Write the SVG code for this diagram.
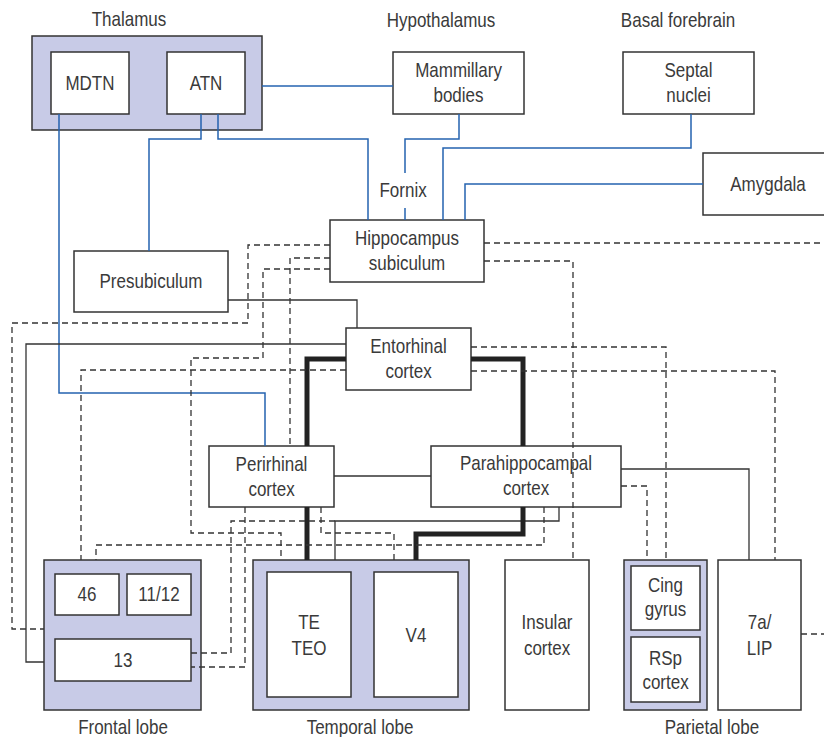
<svg xmlns="http://www.w3.org/2000/svg" width="824" height="737" viewBox="0 0 824 737">
<style>
text{font-family:"Liberation Sans",Arial,sans-serif;font-size:20px;fill:#3a3a3a;text-anchor:middle;transform-box:fill-box;transform-origin:center;transform:scale(0.85,1)}
.box{fill:#fff;stroke:#333;stroke-width:1.5}
.lobe{fill:#c8cbe7;stroke:#333;stroke-width:1.5}
.blue{fill:none;stroke:#2563b0;stroke-width:1.5}
.solid{fill:none;stroke:#333;stroke-width:1.3}
.thick{fill:none;stroke:#222;stroke-width:5}
.dash{fill:none;stroke:#333;stroke-width:1.3;stroke-dasharray:6 4}
</style>
<rect width="824" height="737" fill="#fff"/>
<g id="labels">
<text x="129" y="26">Thalamus</text>
<text x="441" y="27">Hypothalamus</text>
<text x="678" y="27">Basal forebrain</text>
<text x="403" y="197">Fornix</text>
<text x="123" y="734">Frontal lobe</text>
<text x="360" y="734">Temporal lobe</text>
<text x="712" y="734">Parietal lobe</text>
</g>
<g id="nodes">
<g id="thalamus"><rect class="lobe" x="32" y="36" width="230" height="94"/></g>
<g id="mdtn"><rect class="box" x="51" y="52" width="78" height="62"/><text x="90" y="90">MDTN</text></g>
<g id="atn"><rect class="box" x="167" y="52" width="78" height="62"/><text x="206" y="90">ATN</text></g>
<g id="mammillary"><rect class="box" x="393" y="52" width="131" height="62"/><text x="458.5" y="77">Mammillary</text><text x="458.5" y="102">bodies</text></g>
<g id="septal"><rect class="box" x="623" y="52" width="131" height="62"/><text x="688.5" y="77">Septal</text><text x="688.5" y="102">nuclei</text></g>
<g id="amygdala"><rect class="box" x="703" y="153" width="130" height="62"/><text x="768" y="191">Amygdala</text></g>
<g id="hippocampus"><rect class="box" x="330" y="220" width="154" height="62"/><text x="407" y="245">Hippocampus</text><text x="407" y="270">subiculum</text></g>
<g id="presubiculum"><rect class="box" x="74" y="251" width="154" height="61"/><text x="151" y="288">Presubiculum</text></g>
<g id="entorhinal"><rect class="box" x="346" y="328" width="125" height="62"/><text x="408.5" y="353">Entorhinal</text><text x="408.5" y="378">cortex</text></g>
<g id="perirhinal"><rect class="box" x="209" y="446" width="125" height="61"/><text x="271.5" y="471">Perirhinal</text><text x="271.5" y="496">cortex</text></g>
<g id="parahippocampal"><rect class="box" x="431" y="446" width="190" height="61"/><text x="526" y="470">Parahippocampal</text><text x="526" y="495">cortex</text></g>
<g id="frontal"><rect class="lobe" x="44" y="560" width="157" height="150"/>
<rect class="box" x="55" y="574" width="64" height="41"/><text x="87" y="601">46</text>
<rect class="box" x="127" y="574" width="64" height="41"/><text x="159" y="601">11/12</text>
<rect class="box" x="55" y="639" width="136" height="42"/><text x="123" y="667">13</text></g>
<g id="temporal"><rect class="lobe" x="253" y="560" width="216" height="150"/>
<rect class="box" x="267" y="572" width="84" height="125"/><text x="309" y="629">TE</text><text x="309" y="655">TEO</text>
<rect class="box" x="374" y="572" width="84" height="125"/><text x="416" y="642">V4</text></g>
<g id="insular"><rect class="box" x="505" y="560" width="84" height="150"/><text x="547" y="629">Insular</text><text x="547" y="655">cortex</text></g>
<g id="parietal"><rect class="lobe" x="624" y="560" width="83" height="150"/>
<rect class="box" x="631" y="566" width="69" height="64"/><text x="665.5" y="592">Cing</text><text x="665.5" y="616">gyrus</text>
<rect class="box" x="631" y="637" width="69" height="65"/><text x="665.5" y="665">RSp</text><text x="665.5" y="689">cortex</text></g>
<g id="lip"><rect class="box" x="718" y="560" width="83" height="150"/><text x="759.5" y="629">7a/</text><text x="759.5" y="655">LIP</text></g>
</g>
<g id="connectors">
<path class="blue" d="M262,86H393"/>
<path class="blue" d="M59,114V393H265V446"/>
<path class="blue" d="M201,114V139H149V251"/>
<path class="blue" d="M218,114V139H368V220"/>
<path class="blue" d="M459,114V139H405V173M405,208V220"/>
<path class="blue" d="M691,114V148H443V220"/>
<path class="blue" d="M703,184H465V220"/>
<path class="solid" d="M228,300H357V328"/>
<path class="solid" d="M346,344H26V662H44"/>
<path class="solid" d="M334,476H431"/>
<path class="solid" d="M621,469H749V560"/>
<path class="solid" d="M559,507V521H335V560"/>
<path class="thick" d="M346,359H307V446M307,507V560"/>
<path class="thick" d="M471,359H523V446M523,507V534H416V560"/>
<path class="dash" d="M330,245H248V323H12V629H44"/>
<path class="dash" d="M330,258H290V446"/>
<path class="dash" d="M330,269H263V358H191V533H281V560"/>
<path class="dash" d="M484,243H824"/>
<path class="dash" d="M484,261H573V560"/>
<path class="dash" d="M346,370H81V560"/>
<path class="dash" d="M471,347H666V560"/>
<path class="dash" d="M471,371H775V560"/>
<path class="dash" d="M621,486H647V560"/>
<path class="dash" d="M544,507V545H96V560"/>
<path class="dash" d="M321,507V533H394V560"/>
<path class="dash" d="M245,507V667H191"/>
<path class="dash" d="M191,653H231V521H337"/>
<path class="dash" d="M801,634H824"/>
</g>
</svg>
